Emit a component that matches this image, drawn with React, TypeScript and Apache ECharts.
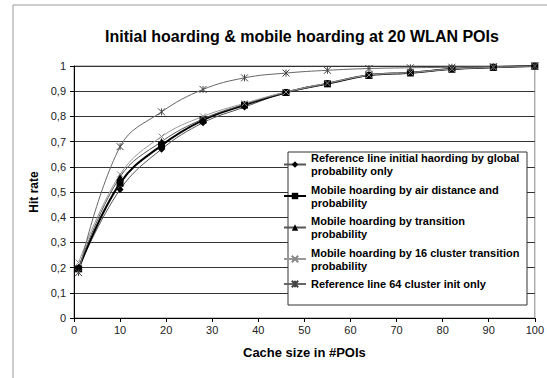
import React, { useEffect, useRef } from "react";
import * as echarts from "echarts";

const cacheSizes = [1, 10, 19, 28, 37, 46, 55, 64, 73, 82, 91, 100];
const refGlobal = [0.2, 0.51, 0.67, 0.775, 0.837, 0.895, 0.93, 0.963, 0.973, 0.988, 0.995, 1.0];
const airDistance = [0.195, 0.535, 0.685, 0.785, 0.845, 0.895, 0.93, 0.963, 0.973, 0.988, 0.995, 1.0];
const transition = [0.2, 0.56, 0.7, 0.79, 0.848, 0.895, 0.93, 0.963, 0.973, 0.988, 0.995, 1.0];
const cluster16 = [0.22, 0.57, 0.72, 0.8, 0.852, 0.897, 0.932, 0.964, 0.974, 0.988, 0.995, 1.0];
const cluster64 = [0.18, 0.68, 0.818, 0.907, 0.953, 0.972, 0.983, 0.99, 0.993, 0.995, 0.997, 1.0];

const seriesNames = [
  "Reference line initial haording by global\nprobability only",
  "Mobile hoarding by air distance and\nprobability",
  "Mobile hoarding by transition\nprobability",
  "Mobile hoarding by 16 cluster transition\nprobability",
  "Reference line 64 cluster init only",
];

const FONT = "Arial, 'Liberation Sans', sans-serif";

function pairs(ys: number[]) {
  return cacheSizes.map((x, i) => [x, ys[i]]);
}

export default function App() {
  const ref = useRef<HTMLDivElement>(null);
  useEffect(() => {
    if (!ref.current) return;
    const chart = echarts.init(ref.current, null, { renderer: "svg" });
    const cross = "path://M0,0L10,10M10,0L0,10";
    const star = "path://M0,0L10,10M10,0L0,10M5,0L5,10";
    const base = {
      type: "line",
      smooth: 0.4,
      showSymbol: true,
      symbolKeepAspect: true,
    };
    chart.setOption({
      animation: false,
      backgroundColor: "#fff",
      title: {
        text: "Initial hoarding & mobile hoarding at 20 WLAN POIs",
        left: 297,
        textAlign: "center",
        top: 23,
        textStyle: { fontFamily: FONT, fontSize: 16, fontWeight: "bold", color: "#000" },
      },
      graphic: [
        {
          type: "rect",
          shape: { x: 13, y: 5, width: 700, height: 500 },
          style: { fill: "none", stroke: "#999", lineWidth: 1 },
          silent: true,
          z: -1,
        },
        {
          type: "rect",
          shape: { x: 288, y: 152, width: 239, height: 153 },
          style: { fill: "#fff", stroke: "#333", lineWidth: 1 },
          silent: true,
          z: 3,
        },
      ],
      grid: { left: 74, right: 12, top: 66, bottom: 60, show: true, borderColor: "#888", borderWidth: 1 },
      xAxis: {
        type: "value",
        min: 0,
        max: 100,
        interval: 10,
        name: "Cache size in #POIs",
        nameLocation: "middle",
        nameGap: 28,
        nameTextStyle: { fontFamily: FONT, fontSize: 13, fontWeight: "bold", color: "#000" },
        axisLine: { lineStyle: { color: "#000", width: 1 } },
        axisTick: { show: true, length: 4, lineStyle: { color: "#000" } },
        axisLabel: { fontFamily: FONT, fontSize: 11, color: "#222", margin: 6 },
        splitLine: { show: false },
      },
      yAxis: {
        type: "value",
        min: 0,
        max: 1,
        interval: 0.1,
        name: "Hit rate",
        nameLocation: "middle",
        nameGap: 33,
        nameTextStyle: { fontFamily: FONT, fontSize: 12, fontWeight: "bold", color: "#000" },
        axisLine: { show: true, lineStyle: { color: "#000", width: 1 } },
        axisTick: { show: true, length: 4, lineStyle: { color: "#000" } },
        axisLabel: {
          fontFamily: FONT,
          fontSize: 11,
          color: "#222",
          margin: 8,
          formatter: (v: number) => String(Math.round(v * 10) / 10).replace(".", ","),
        },
        splitLine: { show: true, lineStyle: { color: "#333", width: 1 } },
      },
      legend: {
        orient: "vertical",
        left: 283,
        top: 145,
        itemWidth: 22,
        itemHeight: 8,
        itemGap: -7.5,
        padding: 0,
        selectedMode: false,
        z: 5,
        textStyle: {
          fontFamily: FONT,
          fontSize: 11,
          fontWeight: "bold",
          color: "#000",
          lineHeight: 13,
          padding: [13, 0, 0, 0],
        },
        data: seriesNames,
      },
      series: [
        {
          ...base,
          name: seriesNames[0],
          data: pairs(refGlobal),
          symbol: "diamond",
          symbolSize: 7,
          lineStyle: { color: "#555", width: 1 },
          itemStyle: { color: "#000" },
        },
        {
          ...base,
          name: seriesNames[1],
          data: pairs(airDistance),
          symbol: "rect",
          symbolSize: 7,
          lineStyle: { color: "#000", width: 2 },
          itemStyle: { color: "#000" },
        },
        {
          ...base,
          name: seriesNames[2],
          data: pairs(transition),
          symbol: "triangle",
          symbolSize: 7,
          lineStyle: { color: "#555", width: 1 },
          itemStyle: { color: "#000" },
        },
        {
          ...base,
          name: seriesNames[3],
          data: pairs(cluster16),
          symbol: cross,
          symbolSize: 6,
          lineStyle: { color: "#999", width: 1 },
          itemStyle: { color: "none", borderColor: "#888", borderWidth: 1 },
        },
        {
          ...base,
          name: seriesNames[4],
          data: pairs(cluster64),
          symbol: star,
          symbolSize: 7,
          lineStyle: { color: "#666", width: 1 },
          itemStyle: { color: "none", borderColor: "#444", borderWidth: 1 },
        },
      ],
    });
    return () => chart.dispose();
  }, []);
  return (
    <div
      ref={ref}
      style={{ position: "fixed", left: 0, top: 0, width: 547, height: 378 }}
    />
  );
}
